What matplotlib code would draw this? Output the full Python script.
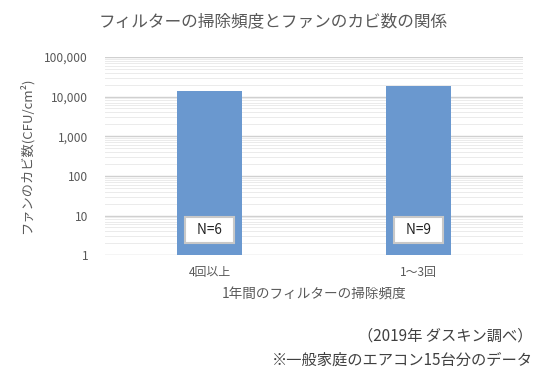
import numpy as np
import matplotlib.pyplot as plt
from matplotlib.ticker import FixedLocator, LogLocator, NullFormatter

plt.rcParams['font.family'] = ['Noto Sans CJK JP', 'DejaVu Sans']

categories = ['4回以上', '1～3回']
mold_counts = [14000, 18000]
sample_labels = ['N=6', 'N=9']
y_ticks = [1, 10, 100, 1000, 10000, 100000]
y_tick_labels = ['1', '10', '100', '1,000', '10,000', '100,000']

text_gray = '#595959'
bar_blue = '#6A98CF'

fig = plt.figure(figsize=(5.4, 3.92), dpi=100)
ax = fig.add_axes([0.194, 0.349, 0.775, 0.506])

x = np.arange(len(categories))
ax.bar(x, np.array(mold_counts) - 1, bottom=1, width=0.31, color=bar_blue, zorder=3)

ax.set_yscale('log')
ax.set_ylim(1, 100000)
ax.set_xlim(-0.5, 1.5)
ax.yaxis.set_major_locator(FixedLocator(y_ticks))
ax.set_yticklabels(y_tick_labels)
ax.yaxis.set_minor_locator(LogLocator(base=10, subs=np.arange(2, 10)))
ax.yaxis.set_minor_formatter(NullFormatter())
ax.set_xticks(x)
ax.set_xticklabels(categories)

ax.grid(True, which='major', axis='y', color='#D0D0D0', linewidth=1.0, zorder=0)
ax.grid(True, which='minor', axis='y', color='#EBEBEB', linewidth=0.7, zorder=0)
for s in ax.spines.values():
    s.set_visible(False)
ax.tick_params(axis='both', which='both', length=0, colors=text_gray, labelsize=8.6)
ax.tick_params(axis='y', pad=12)
ax.tick_params(axis='x', pad=8)

for xi, lab in zip(x, sample_labels):
    ax.text(xi, 4.3, '  ' + lab + '  ', ha='center', va='center', fontsize=9.8,
            color='#222222', zorder=4,
            bbox=dict(boxstyle='square,pad=0.42', fc='white', ec='#C8C8C8', lw=1.5))

ax.set_xlabel('1年間のフィルターの掃除頻度', fontsize=9.8, color=text_gray, labelpad=6)
ax.set_ylabel('ファンのカビ数(CFU/cm²)', fontsize=9.5, color=text_gray, labelpad=8)

fig.text(0.505, 0.944, 'フィルターの掃除頻度とファンのカビ数の関係', ha='center', va='center',
         fontsize=12, color=text_gray)
fig.text(0.987, 0.143, '（2019年 ダスキン調べ）', ha='right', va='center', fontsize=11, color='#404040')
fig.text(0.987, 0.081, '※一般家庭のエアコン15台分のデータ', ha='right', va='center', fontsize=11, color='#404040')

fig.savefig('out.png', dpi=100)
